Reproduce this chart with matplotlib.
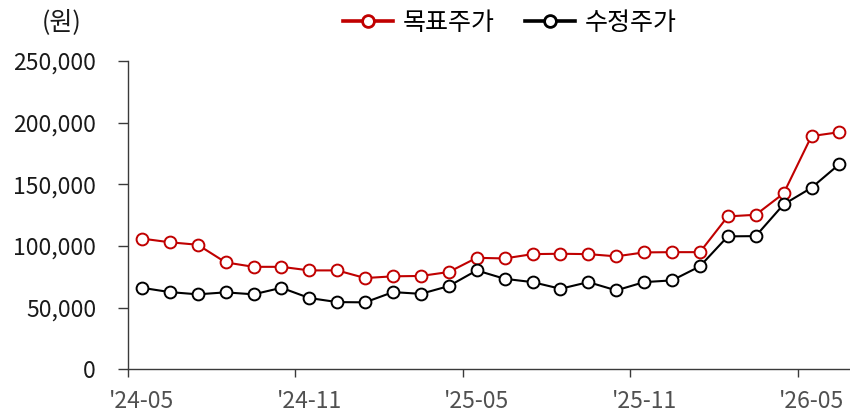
import numpy as np
import matplotlib.pyplot as plt
from matplotlib.ticker import FuncFormatter

plt.rcParams['font.family'] = ['Noto Sans CJK KR', 'DejaVu Sans']

# monthly points, '24-05 .. '26-06
months = ["'24-05", "'24-06", "'24-07", "'24-08", "'24-09", "'24-10", "'24-11", "'24-12",
          "'25-01", "'25-02", "'25-03", "'25-04", "'25-05", "'25-06", "'25-07", "'25-08",
          "'25-09", "'25-10", "'25-11", "'25-12", "'26-01", "'26-02", "'26-03", "'26-04",
          "'26-05", "'26-06"]
target = [106000, 103000, 101000, 86700, 83100, 83100, 80200, 80200, 74000, 75400,
          75700, 78900, 90400, 89900, 93400, 93700, 93400, 91600, 94800, 95000,
          95000, 124000, 125300, 142600, 189100, 192300]
adj = [66100, 62600, 60800, 62400, 60800, 66100, 57800, 54500, 54300, 62600,
       61200, 67500, 80200, 73400, 70700, 65300, 70700, 64000, 70700, 72100,
       83500, 107800, 108000, 133700, 147200, 166400]
tick_labels = ["'24-05", "'24-11", "'25-05", "'25-11", "'26-05"]

x = np.arange(len(months))
RED = '#C00000'
AXC = '#3a3a3a'

fig = plt.figure(figsize=(8.5, 4.19), dpi=100)
ax = fig.add_axes([0.1506, 0.1186, 0.8494, 0.7358])

ax.plot(x, target, color=RED, lw=1.5, marker='o', ms=8.5, mfc='white',
        mec=RED, mew=1.4, label='목표주가', zorder=3)
ax.plot(x, adj, color='black', lw=1.5, marker='o', ms=8.5, mfc='white',
        mec='black', mew=1.4, label='수정주가', zorder=3)

ax.set_ylim(0, 250000)
ax.set_yticks(np.arange(0, 250001, 50000))
ax.yaxis.set_major_formatter(FuncFormatter(lambda v, p: f"{int(v):,}"))
ax.set_xlim(-0.5, 25.38)
# labels sit on the month, tick marks sit between months
pos = [months.index(m) for m in tick_labels]
ax.set_xticks(pos)
ax.set_xticklabels(tick_labels)
ax.set_xticks([p - 0.5 for p in pos], minor=True)

for s in ['top', 'right']:
    ax.spines[s].set_visible(False)
for s in ['left', 'bottom']:
    ax.spines[s].set_color(AXC)
    ax.spines[s].set_linewidth(1.0)

ax.tick_params(axis='y', direction='out', length=7, width=1.0, color=AXC,
               labelsize=16.5, labelcolor='#1a1a1a', pad=16)
ax.tick_params(axis='x', which='major', length=0, labelsize=16.5,
               labelcolor='#505050', pad=15)
ax.tick_params(axis='x', which='minor', direction='out', length=6, width=1.0, color=AXC)

fig.text(0.073, 0.948, '(원)', ha='center', va='center', fontsize=18, color='#1a1a1a')

leg = ax.legend(loc='center', bbox_to_anchor=(0.60, 0.945), bbox_transform=fig.transFigure,
                ncol=2, frameon=False, fontsize=18, handlelength=2.0,
                handletextpad=0.4, columnspacing=1.2)
for h in leg.get_lines():
    h.set_linewidth(2.6)
    h.set_markeredgewidth(2.0)

fig.savefig('out.png', dpi=100)
